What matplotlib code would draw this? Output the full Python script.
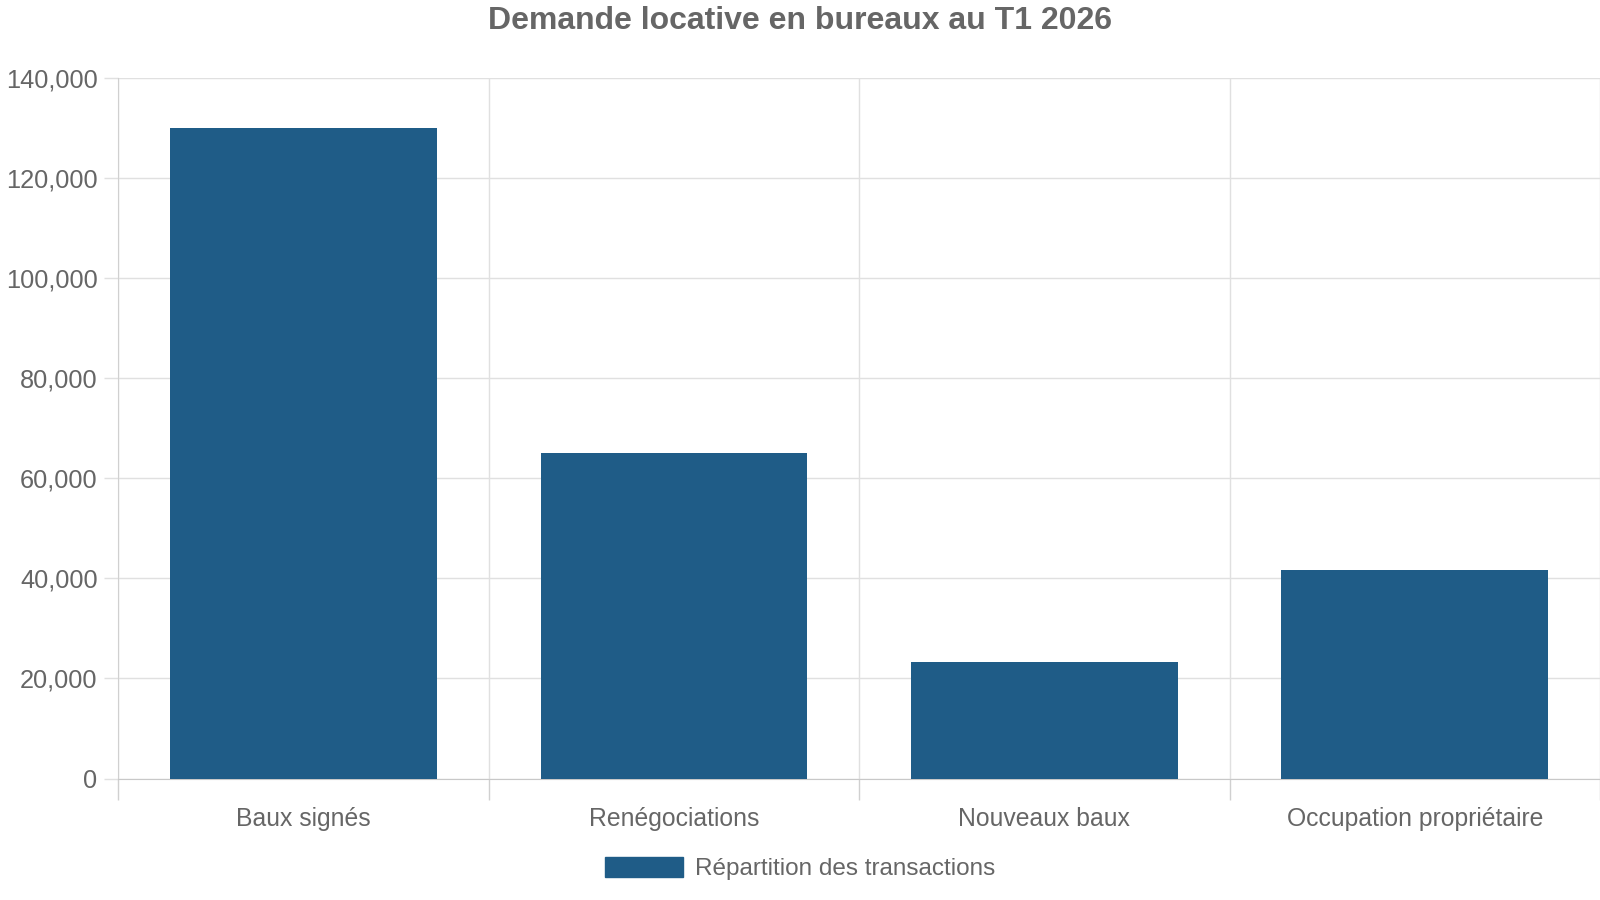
import matplotlib
matplotlib.use("Agg")
import matplotlib.pyplot as plt
from matplotlib.patches import Patch
from matplotlib.ticker import FuncFormatter, MultipleLocator

categories = ["Baux signés", "Renégociations", "Nouveaux baux", "Occupation propriétaire"]
values = [130000, 65000, 23350, 41600]
series_name = "Répartition des transactions"
title = "Demande locative en bureaux au T1 2026"

plt.rcParams['font.family'] = ['Liberation Sans', 'DejaVu Sans']
grey = '#666666'
bar_color = '#1f5c87'
grid_c = '#e0e0e0'

fig = plt.figure(figsize=(16, 9), dpi=100)
ax = fig.add_axes([0.074, 0.135, 0.926, 0.778])

x = list(range(len(categories)))
ax.bar(x, values, width=0.72, color=bar_color, zorder=3)

ax.set_xlim(-0.5, len(categories) - 0.5)
ax.set_ylim(0, 140000)
ax.yaxis.set_major_locator(MultipleLocator(20000))
ax.yaxis.set_major_formatter(FuncFormatter(lambda v, p: f"{int(v):,}"))

ax.set_xticks(x)
ax.set_xticklabels(categories)
ax.set_xticks([i - 0.5 for i in range(len(categories) + 1)], minor=True)
ax.tick_params(axis='x', which='major', length=0, pad=20.5, labelsize=17.8, labelcolor=grey)
ax.tick_params(axis='x', which='minor', length=15, color='#d0d0d0', width=1)
ax.tick_params(axis='y', length=10, color=grid_c, width=1, pad=5, labelsize=18.3, labelcolor=grey)

ax.grid(True, axis='y', color=grid_c, linewidth=1, zorder=0)
ax.grid(True, axis='x', which='minor', color=grid_c, linewidth=1, zorder=0)

for s in ['top', 'right']:
    ax.spines[s].set_visible(False)
ax.spines['left'].set_color('#d0d0d0')
ax.spines['bottom'].set_color('#c8c8c8')

fig.suptitle(title, y=0.993, fontsize=23, fontweight='bold', color=grey)

handle = Patch(facecolor=bar_color, edgecolor=bar_color)
fig.legend([handle], [series_name], loc='center', bbox_to_anchor=(0.5, 0.035),
           frameon=False, fontsize=17.5, labelcolor=grey,
           handlelength=3.2, handleheight=0.9, handletextpad=0.5)

fig.savefig("out.png", dpi=100, facecolor='white')
